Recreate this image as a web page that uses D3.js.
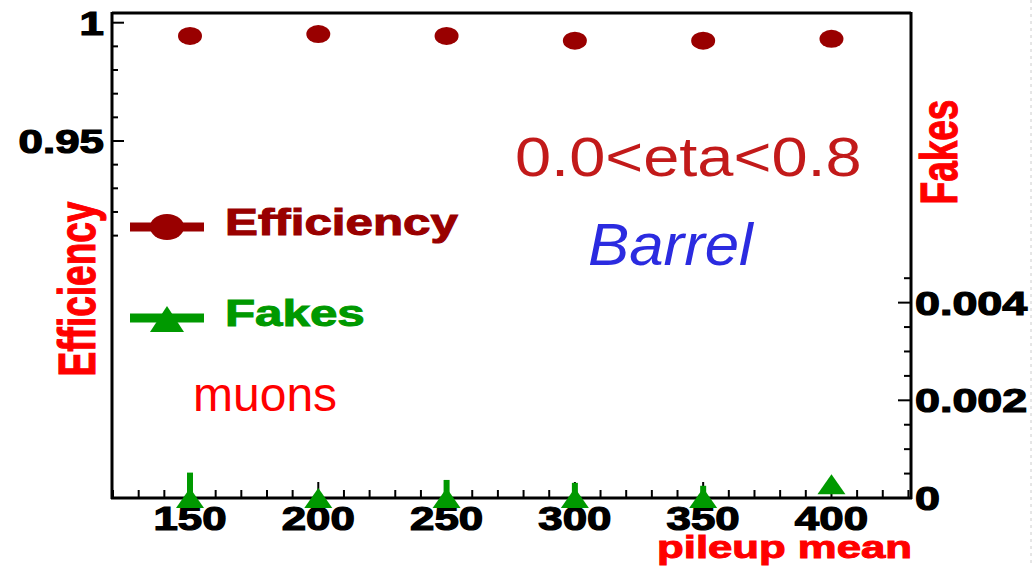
<!DOCTYPE html>
<html>
<head>
<meta charset="utf-8">
<script src="https://cdn.jsdelivr.net/npm/d3@7"></script>
<style>
  html, body { margin: 0; padding: 0; background: #fff; }
  svg { display: block; }
  text { font-family: "Liberation Sans", Arial, Helvetica, sans-serif; }
</style>
</head>
<body>
<svg id="chart" width="1033" height="566"></svg>
<script>
// Pileup scan, muons, barrel region
const pileup = [150, 200, 250, 300, 350, 400];
const efficiency = [0.9944, 0.9952, 0.9944, 0.9924, 0.9924, 0.9932];
const fakes = [0, 0, 0, 0, 0, 0.00028];
const fakesErr = [0.00052, 0.0001, 0.00037, 0.00031, 0.00025, 0.0001];
const xTickLabels = ["150", "200", "250", "300", "350", "400"];
const effTickLabels = ["0.95", "1"];
const fakeTickLabels = ["0", "0.002", "0.004"];

const effColor = "#990000";
const fakeColor = "#009900";
const axisRed = "#ff0000";

const svg = d3.select("#chart");
const frame = { left: 112, right: 911, top: 13, bottom: 498 };

const x = d3.scaleLinear().domain([119.6, 431]).range([frame.left, frame.right]);
const yEff = d3.scaleLinear().domain([0.7991, 1.0041]).range([frame.bottom, frame.top]);
const yFake = d3.scaleLinear().domain([0, 0.00993]).range([frame.bottom, frame.top]);

// text stretched horizontally (or along its glyph height when rotated)
function stretchedText(parent, str, opts) {
  const g = parent.append("g")
    .attr("transform", `translate(${opts.x},${opts.y}) rotate(${opts.rotate || 0}) scale(${opts.sx || 1},${opts.sy || 1})`);
  const t = g.append("text")
    .attr("text-anchor", opts.anchor || "start")
    .attr("font-size", opts.size)
    .attr("font-weight", opts.weight || "normal")
    .attr("font-style", opts.style || "normal")
    .attr("fill", opts.color || "#000")
    .text(str);
  if (opts.stroke) t.attr("stroke", opts.color).attr("stroke-width", opts.stroke).attr("paint-order", "stroke");
  return g;
}

// faint page edge
svg.append("line").attr("x1", 1031).attr("x2", 1031).attr("y1", 0).attr("y2", 566)
  .attr("stroke", "#cccccc").attr("stroke-width", 1).attr("stroke-dasharray", "3,4");

// frame: top line
svg.append("line").attr("x1", frame.left).attr("x2", frame.right)
  .attr("y1", frame.top).attr("y2", frame.top)
  .attr("stroke", "#000").attr("stroke-width", 3);

// bottom axis (ticks pointing inward)
const xMinor = d3.range(120, 431, 10);
svg.append("line").attr("x1", frame.left - 1).attr("x2", frame.right + 1)
  .attr("y1", frame.bottom).attr("y2", frame.bottom)
  .attr("stroke", "#000").attr("stroke-width", 3);
svg.append("g").selectAll("line").data(xMinor).join("line")
  .attr("x1", d => x(d)).attr("x2", d => x(d))
  .attr("y1", frame.bottom)
  .attr("y2", d => frame.bottom - (d % 50 === 0 ? 16 : 8))
  .attr("stroke", "#000").attr("stroke-width", 2);
pileup.forEach((p, i) => {
  stretchedText(svg, xTickLabels[i], { x: x(p), y: 530, size: 33, weight: "bold", sx: 1.33, anchor: "middle", color: "#000", stroke: 1.2 });
});

// left axis (efficiency)
svg.append("line").attr("x1", frame.left).attr("x2", frame.left)
  .attr("y1", frame.top - 1).attr("y2", frame.bottom + 1)
  .attr("stroke", "#000").attr("stroke-width", 3);
const effTicks = d3.range(91, 101).map(d => d / 100);
svg.append("g").selectAll("line").data(effTicks).join("line")
  .attr("x1", frame.left).attr("x2", d => frame.left + (Math.round(d * 100) % 5 === 0 ? 12 : 6))
  .attr("y1", d => yEff(d)).attr("y2", d => yEff(d))
  .attr("stroke", "#000").attr("stroke-width", 2);
[0.95, 1].forEach((v, i) => {
  stretchedText(svg, effTickLabels[i], { x: 104, y: yEff(v) + 12, size: 33, weight: "bold", sx: 1.33, anchor: "end", color: "#000", stroke: 1.2 });
});

// right axis (fakes)
svg.append("line").attr("x1", frame.right).attr("x2", frame.right)
  .attr("y1", frame.top - 1).attr("y2", frame.bottom + 1)
  .attr("stroke", "#000").attr("stroke-width", 3);
const fakeTicks = d3.range(0, 10).map(d => d * 0.0005);
svg.append("g").selectAll("line").data(fakeTicks).join("line")
  .attr("x1", frame.right).attr("x2", (d, i) => frame.right - (i % 4 === 0 ? 13 : 7))
  .attr("y1", d => yFake(d)).attr("y2", d => yFake(d))
  .attr("stroke", "#000").attr("stroke-width", 2);
[0, 0.002, 0.004].forEach((v, i) => {
  stretchedText(svg, fakeTickLabels[i], { x: 915, y: yFake(v) + 12, size: 33, weight: "bold", sx: 1.36, anchor: "start", color: "#000", stroke: 1.2 });
});

// axis titles
stretchedText(svg, "Efficiency", { x: 95, y: 289, rotate: -90, size: 37, weight: "bold", sy: 1.4, anchor: "middle", color: axisRed, stroke: 0.8 });
stretchedText(svg, "Fakes", { x: 957, y: 152, rotate: -90, size: 37, weight: "bold", sy: 1.4, anchor: "middle", color: axisRed, stroke: 0.8 });
stretchedText(svg, "pileup mean", { x: 912, y: 558, size: 31, weight: "bold", sx: 1.41, anchor: "end", color: axisRed, stroke: 1 });

// fakes: error bars and triangle markers
const tri = (cx, cy, w, h) => `M${cx},${cy - h / 2} L${cx + w / 2},${cy + h / 2} L${cx - w / 2},${cy + h / 2} Z`;
svg.append("g").selectAll("line").data(pileup).join("line")
  .attr("x1", d => x(d)).attr("x2", d => x(d))
  .attr("y1", (d, i) => yFake(Math.max(0, fakes[i] - fakesErr[i])))
  .attr("y2", (d, i) => yFake(fakes[i] + fakesErr[i]))
  .attr("stroke", fakeColor).attr("stroke-width", 6);
svg.append("g").selectAll("path").data(pileup).join("path")
  .attr("d", (d, i) => tri(x(d), yFake(fakes[i]), 28, 20))
  .attr("fill", fakeColor);

// efficiency markers
svg.append("g").selectAll("ellipse").data(pileup).join("ellipse")
  .attr("cx", d => x(d)).attr("cy", (d, i) => yEff(efficiency[i]))
  .attr("rx", 12).attr("ry", 9)
  .attr("fill", effColor);

// legend
const legend = svg.append("g");
legend.append("line").attr("x1", 130).attr("x2", 204).attr("y1", 227).attr("y2", 227)
  .attr("stroke", effColor).attr("stroke-width", 9);
legend.append("ellipse").attr("cx", 167).attr("cy", 227).attr("rx", 17).attr("ry", 13).attr("fill", effColor);
stretchedText(legend, "Efficiency", { x: 225, y: 235, size: 36, weight: "bold", sx: 1.37, color: effColor, stroke: 1 });

legend.append("line").attr("x1", 130).attr("x2", 204).attr("y1", 318).attr("y2", 318)
  .attr("stroke", fakeColor).attr("stroke-width", 9);
legend.append("path").attr("d", tri(167, 319, 34, 26)).attr("fill", fakeColor);
stretchedText(legend, "Fakes", { x: 225, y: 326, size: 36, weight: "bold", sx: 1.37, color: fakeColor, stroke: 1 });

// annotations
stretchedText(svg, "0.0<eta<0.8", { x: 515, y: 176, size: 56, sx: 1.16, color: "#c21a1a" });
stretchedText(svg, "Barrel", { x: 588, y: 265, size: 60, sx: 1.03, style: "italic", color: "#2b2be0" });
stretchedText(svg, "muons", { x: 193, y: 411, size: 48, color: "#ff0000" });
</script>
</body>
</html>
